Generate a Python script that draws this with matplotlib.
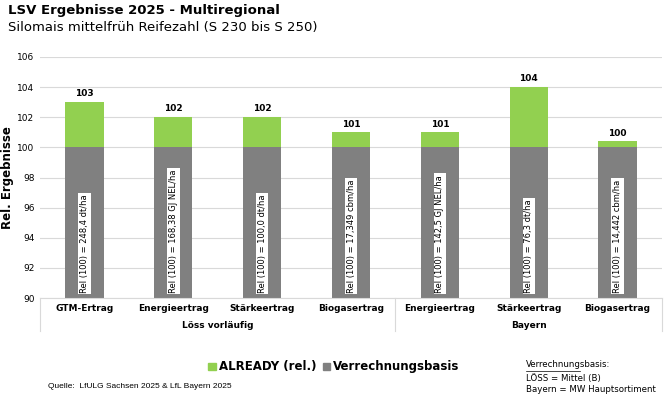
import numpy as np
import matplotlib.pyplot as plt
from matplotlib.patches import Patch

kategorien = ["GTM-Ertrag", "Energieertrag", "Stärkeertrag", "Biogasertrag",
              "Energieertrag", "Stärkeertrag", "Biogasertrag"]
gruppen = ["Löss vorläufig", "Bayern"]
gruppen_n = [4, 3]
already = [103, 102, 102, 101, 101, 104, 100.4]
already_lbl = ["103", "102", "102", "101", "101", "104", "100"]
basis = [100, 100, 100, 100, 100, 100, 100]
basis_txt = ["Rel (100) = 248,4 dt/ha", "Rel (100) = 168,38 GJ NEL/ha",
             "Rel (100) = 100,0 dt/ha", "Rel (100) = 17,349 cbm/ha",
             "Rel (100) = 142,5 GJ NEL/ha", "Rel (100) = 76,3 dt/ha",
             "Rel (100) = 14,442 cbm/ha"]

GREEN = "#92D050"
GREY = "#808080"
YMIN = 90

fig = plt.figure(figsize=(6.68, 3.98), dpi=100)
ax = fig.add_axes([0.06, 0.251, 0.931, 0.606])

x = np.arange(len(kategorien))
w = 0.43
basis = np.array(basis)
already = np.array(already)
ax.bar(x, basis - YMIN, bottom=YMIN, width=w, color=GREY, zorder=2)
ax.bar(x, already - basis, bottom=basis, width=w, color=GREEN, zorder=2)

for i in x:
    ax.text(i, already[i] + 0.25, already_lbl[i], ha="center", va="bottom",
            fontsize=6.5, fontweight="bold")
    ax.text(i, YMIN + 0.35, basis_txt[i], rotation=90, ha="center", va="bottom",
            fontsize=6, bbox=dict(facecolor="white", edgecolor="none", pad=1.2),
            zorder=3)

ax.set_xlim(-0.5, len(kategorien) - 0.5)
ax.set_ylim(90, 106)
ax.set_yticks(np.arange(90, 107, 2))
ax.tick_params(axis="y", labelsize=6.5, length=0, pad=4)
ax.set_xticks([])
ax.grid(axis="y", color="#D9D9D9", lw=0.8, zorder=0)
for s in ["top", "right", "left"]:
    ax.spines[s].set_visible(False)
ax.spines["bottom"].set_color("#D9D9D9")
fig.text(0.011, 0.555, "Rel. Ergebnisse", rotation=90, fontsize=8.5,
         fontweight="bold", ha="center", va="center")

tr = ax.get_xaxis_transform()
for i, k in enumerate(kategorien):
    ax.text(i, -0.025, k, transform=tr, ha="center", va="top",
            fontsize=6.5, fontweight="bold")
start = 0
ax.plot([-0.5, -0.5], [0, -0.135], transform=tr, color="#D9D9D9", lw=0.8, clip_on=False)
for g, n in zip(gruppen, gruppen_n):
    mid = start + (n - 1) / 2
    ax.text(mid, -0.095, g, transform=tr, ha="center", va="top",
            fontsize=6.5, fontweight="bold")
    start += n
    ax.plot([start - 0.5, start - 0.5], [0, -0.135], transform=tr,
            color="#D9D9D9", lw=0.8, clip_on=False)

fig.text(0.012, 0.973, "LSV Ergebnisse 2025 - Multiregional", fontsize=9.5,
         fontweight="bold", va="center")
fig.text(0.012, 0.93, "Silomais mittelfrüh Reifezahl (S 230 bis S 250)",
         fontsize=9.5, va="center")

handles = [Patch(color=GREEN, label="ALREADY (rel.)"),
           Patch(color=GREY, label="Verrechnungsbasis")]
fig.legend(handles=handles, loc="center", bbox_to_anchor=(0.50, 0.078),
           ncol=2, frameon=False, handlelength=0.6, handleheight=0.6,
           handletextpad=0.3, columnspacing=0.5,
           prop=dict(size=8.5, weight="bold"))

fig.text(0.072, 0.028, "Quelle:  LfULG Sachsen 2025 & LfL Bayern 2025",
         fontsize=6, va="center", family="Liberation Sans")
fig.text(0.787, 0.084, "Verrechnungsbasis:", fontsize=6.2, va="center",
         family="Liberation Sans Narrow")
fig.add_artist(plt.Line2D([0.787, 0.868], [0.069, 0.069], color="black", lw=0.5))
fig.text(0.787, 0.048, "LÖSS = Mittel (B)", fontsize=6.2, va="center",
         family="Liberation Sans Narrow")
fig.text(0.787, 0.022, "Bayern = MW Hauptsortiment", fontsize=6.2, va="center",
         family="Liberation Sans Narrow")

fig.savefig("out.png", dpi=100)
